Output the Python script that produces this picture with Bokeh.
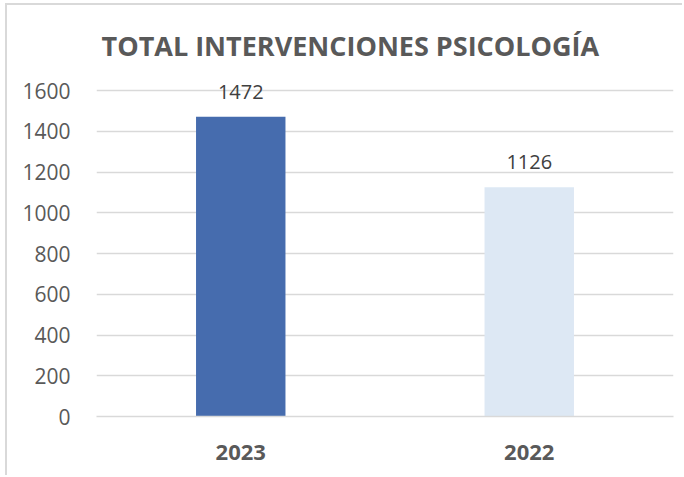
from bokeh.plotting import figure
from bokeh.models import ColumnDataSource, LabelSet, FixedTicker, Range1d
from bokeh.core.properties import value
from bokeh.embed import file_html
from bokeh.resources import INLINE

years = ["2023", "2022"]
values = [1472, 1126]
colors = ["#466cae", "#dde8f4"]
y_ticks = [0, 200, 400, 600, 800, 1000, 1200, 1400, 1600]
title_text = "TOTAL INTERVENCIONES PSICOLOGÍA"

src = ColumnDataSource(dict(year=years, value=values, color=colors,
                            label=[str(v) for v in values]))

W, H = 677, 472
p = figure(x_range=years, y_range=Range1d(0, 1640), width=W, height=H,
           output_backend="svg", toolbar_location=None,
           min_border_left=89, min_border_right=11, min_border_top=77,
           min_border_bottom=61, title=title_text)
p.styles = {"border-top": "2px solid #d9d9d9", "border-left": "2px solid #d9d9d9",
            "margin": "3px 0 0 5px"}

p.title.align = "left"
p.title.offset = 5
p.title.text_font = "Open Sans"
p.title.text_font_style = "bold"
p.title.text_font_size = "27px"
p.title.text_color = "#595959"
p.title.standoff = 38

p.vbar(x="year", top="value", width=0.31, color="color", source=src, line_width=0)

p.outline_line_color = None
p.background_fill_color = "white"
p.border_fill_color = "white"
p.xgrid.grid_line_color = None
p.ygrid.grid_line_color = "#d9d9d9"
p.ygrid.grid_line_width = 1.5
p.yaxis.ticker = FixedTicker(ticks=y_ticks)

p.yaxis.axis_line_color = None
p.yaxis.major_tick_line_color = None
p.yaxis.minor_tick_line_color = None
p.yaxis.major_tick_out = 0
p.yaxis.major_tick_in = 0
p.yaxis.major_label_standoff = 26
p.yaxis.major_label_text_font = "Open Sans"
p.yaxis.major_label_text_font_size = "21px"
p.yaxis.major_label_text_color = "#595959"

p.xaxis.axis_line_color = "#d9d9d9"
p.xaxis.axis_line_width = 1.5
p.xaxis.major_tick_line_color = None
p.xaxis.major_tick_out = 0
p.xaxis.major_tick_in = 0
p.xaxis.major_label_standoff = 28
p.xaxis.major_label_text_font = "Open Sans"
p.xaxis.major_label_text_font_style = "bold"
p.xaxis.major_label_text_font_size = "22px"
p.xaxis.major_label_text_color = "#595959"

labels = LabelSet(x="year", y="value", text="label", source=src, y_offset=18,
                  text_align="center", text_baseline="bottom",
                  text_font=value("Open Sans"), text_font_size=value("20px"),
                  text_color="#404040")
p.add_layout(labels)

open("out.html", "w").write(file_html(p, INLINE))
